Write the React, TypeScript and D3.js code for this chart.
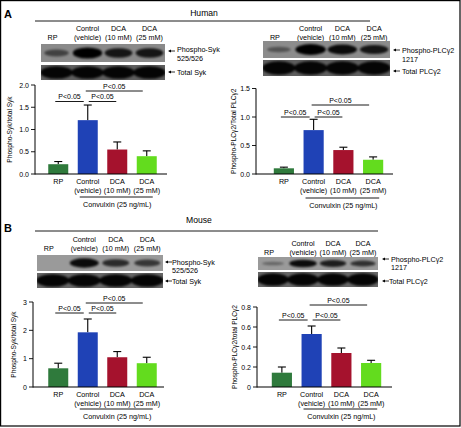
import React from "react";
import * as d3 from "d3";

// ---------- data ----------
const groups = ["RP", "Control", "DCA10", "DCA25"];
const labelLine1 = ["RP", "Control", "DCA", "DCA"];
const labelLine2 = ["", "(vehicle)", "(10 mM)", "(25 mM)"];

const humanSykMean = [0.22, 1.21, 0.55, 0.4];
const humanSykErr = [0.06, 0.34, 0.17, 0.12];
const humanPlcMean = [0.1, 0.77, 0.42, 0.25];
const humanPlcErr = [0.02, 0.19, 0.05, 0.05];
const mouseSykMean = [0.66, 1.93, 1.05, 0.84];
const mouseSykErr = [0.18, 0.47, 0.2, 0.21];
const mousePlcMean = [0.143, 0.53, 0.34, 0.24];
const mousePlcErr = [0.057, 0.08, 0.05, 0.027];

const humanSykTicks = [0, 0.5, 1, 1.5, 2];
const humanPlcTicks = [0, 0.5, 1, 1.5];
const mouseSykTicks = [0, 1, 2, 3];
const mousePlcTicks = [0, 0.2, 0.4, 0.6, 0.8];

// significance brackets: [from, to, level]
const brackets = [
  [0, 1, 0],
  [1, 2, 0],
  [1, 3, 1],
];
const sigLabel = "P<0.05";
const convLabel = "Convulxin (25 ng/mL)";

// blot band intensities per lane
const hSykPhospho = [0.35, 0.95, 0.75, 0.75];
const hPlcPhospho = [0.2, 1.0, 0.85, 0.75];
const mSykPhospho = [0.0, 0.85, 0.6, 0.5];
const mPlcPhospho = [0.12, 0.85, 0.7, 0.55];
const totalBands = [1, 1, 1, 1];

const barColors = ["#2f7a3c", "#1f42b6", "#a5122d", "#63dc1e"];
const FONT = "'Liberation Sans', Arial, Helvetica, sans-serif";

const fmt1 = (d: number) => d.toFixed(1);
const fmtInt = (d: number) => String(d);
const fmtMix = (d: number) => (d === 0 ? "0" : d.toFixed(1));

function Arrow({ x, y, len = 7 }: { x: number; y: number; len?: number }) {
  return (
    <g>
      <line x1={x + 1.5} y1={y} x2={x + len} y2={y} stroke="#000" strokeWidth={0.8} />
      <path d={`M${x},${y} L${x + 3},${y - 1.6} L${x + 3},${y + 1.6} Z`} fill="#000" />
    </g>
  );
}

function Blot({
  x, y, w, h, bands, bg, total, id,
}: { x: number; y: number; w: number; h: number; bands: number[]; bg: string; total?: boolean; id: string }) {
  const lanes = d3.scaleBand().domain(groups).range([x, x + w]).padding(0);
  const lw = lanes.bandwidth();
  return (
    <g>
      <defs>
        <clipPath id={"clip" + id}>
          <rect x={x} y={y} width={w} height={h} />
        </clipPath>
      </defs>
      <rect x={x} y={y} width={w} height={h} fill={bg} />
      <g clipPath={`url(#clip${id})`} filter="url(#blur)">
        {groups.map((g, i) => {
          const v = bands[i];
          if (v <= 0) return null;
          const cx = (lanes(g) as number) + lw / 2;
          const ry = total ? h * 0.42 : h * (0.12 + 0.2 * v);
          const rx = total ? lw * 0.52 : lw * (0.35 + 0.13 * v);
          return (
            <ellipse key={g} cx={cx} cy={y + h / 2} rx={rx} ry={ry} fill="#000" opacity={total ? 0.95 : Math.min(1, 0.25 + 0.8 * v)} />
          );
        })}
      </g>
    </g>
  );
}

function BlotHeader({ x, w, y1, y2 }: { x: number; w: number; y1: number; y2: number }) {
  const lanes = d3.scaleBand().domain(groups).range([x, x + w]);
  return (
    <g fontSize={7.2} textAnchor="middle">
      {groups.map((g, i) => {
        const cx = (lanes(g) as number) + lanes.bandwidth() / 2;
        if (i === 0)
          return (
            <text key={g} x={cx - 4} y={y2}>
              {labelLine1[i]}
            </text>
          );
        return (
          <g key={g}>
            <text x={cx} y={y1}>
              {labelLine1[i]}
            </text>
            <text x={cx} y={y2}>
              {labelLine2[i]}
            </text>
          </g>
        );
      })}
    </g>
  );
}

type ChartCfg = {
  xRange: [number, number];
  axisX: number;
  xEnd: number;
  y0: number;
  y1: number;
  yMax: number;
  ticks: number[];
  fmt: (d: number) => string;
  mean: number[];
  err: number[];
  yLabel: string;
  yLabelX: number;
  brY: [number, number];
  convY: number;
};

function BarChart({ c }: { c: ChartCfg }) {
  const x = d3.scaleBand().domain(groups).range(c.xRange).paddingInner(0.322).paddingOuter(0.161);
  const y = d3.scaleLinear().domain([0, c.yMax]).range([c.y0, c.y1]);
  const bw = x.bandwidth();
  const cx = (i: number) => (x(groups[i]) as number) + bw / 2;
  const base = y(0);
  return (
    <g>
      {/* bars */}
      {groups.map((g, i) => (
        <g key={g}>
          <line x1={cx(i)} x2={cx(i)} y1={y(c.mean[i])} y2={y(c.mean[i] + c.err[i])} stroke="#000" strokeWidth={1.1} />
          <line x1={cx(i) - 4} x2={cx(i) + 4} y1={y(c.mean[i] + c.err[i])} y2={y(c.mean[i] + c.err[i])} stroke="#000" strokeWidth={1.1} />
          <rect x={x(g)} y={y(c.mean[i])} width={bw} height={base - y(c.mean[i])} fill={barColors[i]} />
        </g>
      ))}
      {/* axes */}
      <line x1={c.axisX} x2={c.axisX} y1={base + 0.5} y2={y(c.yMax)} stroke="#000" strokeWidth={1} />
      <line x1={c.axisX} x2={c.xEnd} y1={base} y2={base} stroke="#000" strokeWidth={1.1} />
      {c.ticks.map((t) => (
        <g key={t}>
          <line x1={c.axisX - 4} x2={c.axisX} y1={y(t)} y2={y(t)} stroke="#000" strokeWidth={0.9} />
          <text x={c.axisX - 6} y={y(t) + 2.5} fontSize={7} textAnchor="end">
            {c.fmt(t)}
          </text>
        </g>
      ))}
      <text
        transform={`translate(${c.yLabelX},${(c.y0 + y(c.yMax)) / 2}) rotate(-90)`}
        fontSize={6.6}
        textAnchor="middle"
      >
        {c.yLabel}
      </text>
      {/* x labels */}
      <g fontSize={7.2} textAnchor="middle">
        {groups.map((g, i) => (
          <g key={g}>
            <text x={cx(i)} y={base + 9.5}>
              {labelLine1[i]}
            </text>
            {labelLine2[i] && (
              <text x={cx(i)} y={base + 19}>
                {labelLine2[i]}
              </text>
            )}
          </g>
        ))}
        <line x1={(x(groups[1]) as number) + 2} x2={(x(groups[3]) as number) + bw - 4} y1={c.convY} y2={c.convY} stroke="#000" strokeWidth={0.9} />
        <text x={((x(groups[1]) as number) + (x(groups[3]) as number) + bw) / 2} y={c.convY + 10}>
          {convLabel}
        </text>
      </g>
      {/* significance */}
      <g fontSize={7} textAnchor="middle">
        {brackets.map(([a, b, lvl], k) => {
          const x1 = lvl === 0 ? cx(a) + (a === 0 ? -3 : 1) : cx(a) - 2;
          const x2 = lvl === 0 ? cx(b) - (a === 0 ? 4 : 1) : cx(b) - 4;
          const yy = c.brY[lvl];
          return (
            <g key={k}>
              <line x1={x1} x2={x2} y1={yy} y2={yy} stroke="#000" strokeWidth={0.9} />
              <text x={(x1 + x2) / 2} y={yy - 2.5}>
                {sigLabel}
              </text>
            </g>
          );
        })}
      </g>
    </g>
  );
}

const chartAL: ChartCfg = {
  xRange: [43.5, 161.5], axisX: 35, xEnd: 167, y0: 174, y1: 85, yMax: 2,
  ticks: humanSykTicks, fmt: fmt1, mean: humanSykMean, err: humanSykErr,
  yLabel: "Phospho-Syk/total Syk", yLabelX: 12, brY: [101.5, 91], convY: 197,
};
const chartAR: ChartCfg = {
  xRange: [269, 388], axisX: 256, xEnd: 393, y0: 174, y1: 88.5, yMax: 1.5,
  ticks: humanPlcTicks, fmt: fmt1, mean: humanPlcMean, err: humanPlcErr,
  yLabel: "Phospho-PLCγ2/Total PLCγ2", yLabelX: 236, brY: [117, 105], convY: 198,
};
const chartBL: ChartCfg = {
  xRange: [43.5, 161.5], axisX: 33, xEnd: 164, y0: 387, y1: 302, yMax: 3,
  ticks: mouseSykTicks, fmt: fmtInt, mean: mouseSykMean, err: mouseSykErr,
  yLabel: "Phospho-Syk/total Syk", yLabelX: 16, brY: [313, 303], convY: 409,
};
const chartBR: ChartCfg = {
  xRange: [267, 386], axisX: 257, xEnd: 392, y0: 387, y1: 307, yMax: 0.8,
  ticks: mousePlcTicks, fmt: fmtMix, mean: mousePlcMean, err: mousePlcErr,
  yLabel: "Phospho-PLCγ2/total PLCγ2", yLabelX: 237, brY: [320, 305], convY: 409,
};

export default function App() {
  return (
    <svg
      width={461}
      height={428}
      viewBox="0 0 461 428"
      style={{ position: "absolute", left: 0, top: 0, background: "#fff" }}
      fontFamily={FONT}
    >
      <defs>
        <filter id="blur" x="-20%" y="-50%" width="140%" height="200%">
          <feGaussianBlur stdDeviation="1.3" />
        </filter>
      </defs>
      <rect x={0} y={0} width={461} height={428} fill="#fff" />
      <rect x={0.6} y={0.6} width={459.4} height={425.4} fill="none" stroke="#000" strokeWidth={1.2} />

      {/* Panel A */}
      <text x={4} y={18} fontSize={11} fontWeight="bold">A</text>
      <text x={204} y={16} fontSize={8.6} textAnchor="middle">Human</text>
      <line x1={35} x2={370} y1={21} y2={21} stroke="#000" strokeWidth={0.9} />

      <BlotHeader x={41} w={124} y1={30.5} y2={39.5} />
      <Blot id="a1" x={41} y={44} w={124} h={18} bands={hSykPhospho} bg="#8a8a8a" />
      <Blot id="a2" x={41} y={65} w={124} h={15} bands={totalBands} bg="#5e5e5e" total />
      <g fontSize={7.2}>
        <Arrow x={168} y={51} />
        <text x={177} y={51.5}>Phospho-Syk</text>
        <text x={177} y={60.5}>525/526</text>
        <Arrow x={168} y={72} />
        <text x={177} y={74.5}>Total Syk</text>
      </g>

      <BlotHeader x={263} w={127} y1={30.5} y2={39.5} />
      <Blot id="a3" x={263} y={41} w={127} h={17} bands={hPlcPhospho} bg="#8c8c8c" />
      <Blot id="a4" x={263} y={60} w={127} h={16} bands={totalBands} bg="#5e5e5e" total />
      <g fontSize={7.2}>
        <Arrow x={393} y={50} />
        <text x={402} y={52.5}>Phospho-PLCγ2</text>
        <text x={402} y={61.5}>1217</text>
        <Arrow x={393} y={71} />
        <text x={402} y={73.5}>Total PLCγ2</text>
      </g>

      <BarChart c={chartAL} />
      <BarChart c={chartAR} />

      {/* Panel B */}
      <text x={4} y={232} fontSize={11} fontWeight="bold">B</text>
      <text x={199} y={223} fontSize={8.6} textAnchor="middle">Mouse</text>
      <line x1={35} x2={378} y1={231} y2={231} stroke="#000" strokeWidth={0.9} />

      <BlotHeader x={37} w={126} y1={241.5} y2={250.5} />
      <Blot id="b1" x={37} y={255} w={126} h={16} bands={mSykPhospho} bg="#9a9a9a" />
      <Blot id="b2" x={37} y={273} w={126} h={15} bands={totalBands} bg="#666" total />
      <g fontSize={7.2}>
        <Arrow x={165} y={262} />
        <text x={172} y={264.5}>Phospho-Syk</text>
        <text x={172} y={273}>525/526</text>
        <Arrow x={165} y={281} />
        <text x={172} y={283.5}>Total Syk</text>
      </g>

      <BlotHeader x={258} w={120} y1={245.5} y2={255} />
      <Blot id="b3" x={258} y={257} w={120} h={13} bands={mPlcPhospho} bg="#9a9a9a" />
      <Blot id="b4" x={258} y={272} w={120} h={15} bands={totalBands} bg="#666" total />
      <g fontSize={7.2}>
        <Arrow x={382} y={259} />
        <text x={391} y={261.5}>Phospho-PLCγ2</text>
        <text x={391} y={269.5}>1217</text>
        <Arrow x={382} y={281} />
        <text x={389} y={283.5}>Total PLCγ2</text>
      </g>

      <BarChart c={chartBL} />
      <BarChart c={chartBR} />
    </svg>
  );
}
